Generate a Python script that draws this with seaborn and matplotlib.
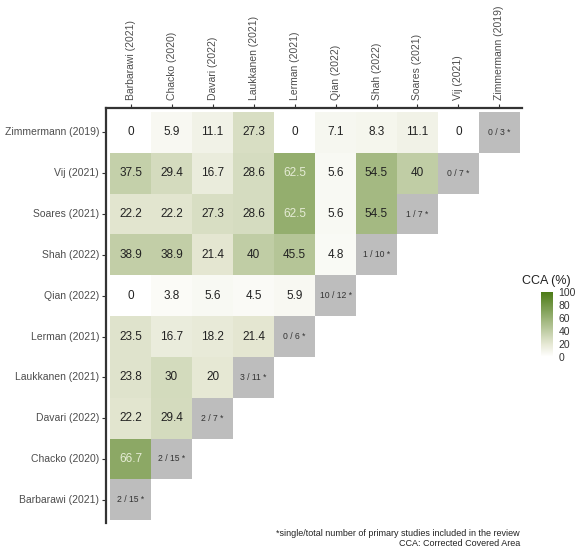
import numpy as np
import pandas as pd
import matplotlib
matplotlib.use("Agg")
import matplotlib.pyplot as plt
from matplotlib.colors import LinearSegmentedColormap, ListedColormap
import seaborn as sns

sns.set_style("white")
plt.rcParams['font.family'] = ['Liberation Sans', 'DejaVu Sans']

cols = ["Barbarawi (2021)", "Chacko (2020)", "Davari (2022)", "Laukkanen (2021)",
        "Lerman (2021)", "Qian (2022)", "Shah (2022)", "Soares (2021)",
        "Vij (2021)", "Zimmermann (2019)"]
rows = ["Zimmermann (2019)", "Vij (2021)", "Soares (2021)", "Shah (2022)",
        "Qian (2022)", "Lerman (2021)", "Laukkanen (2021)", "Davari (2022)",
        "Chacko (2020)", "Barbarawi (2021)"]

zimmermann = [0, 5.9, 11.1, 27.3, 0, 7.1, 8.3, 11.1, 0]
vij = [37.5, 29.4, 16.7, 28.6, 62.5, 5.6, 54.5, 40]
soares = [22.2, 22.2, 27.3, 28.6, 62.5, 5.6, 54.5]
shah = [38.9, 38.9, 21.4, 40, 45.5, 4.8]
qian = [0, 3.8, 5.6, 4.5, 5.9]
lerman = [23.5, 16.7, 18.2, 21.4]
laukkanen = [23.8, 30, 20]
davari = [22.2, 29.4]
chacko = [66.7]
barbarawi = []

diag_labels = ["0 / 3 *", "0 / 7 *", "1 / 7 *", "1 / 10 *", "10 / 12 *",
               "0 / 6 *", "3 / 11 *", "2 / 7 *", "2 / 15 *", "2 / 15 *"]

row_vals = [zimmermann, vij, soares, shah, qian, lerman, laukkanen, davari, chacko, barbarawi]
n = len(cols)
mat = np.full((n, n), np.nan)
for i, vals in enumerate(row_vals):
    for j, v in enumerate(vals):
        mat[i, j] = v
df = pd.DataFrame(mat, index=rows, columns=cols)
annot = np.array([["" if np.isnan(v) else f"{v:g}" for v in r] for r in mat], dtype=object)

diag = np.full((n, n), np.nan)
dannot = np.full((n, n), "", dtype=object)
for i in range(n):
    diag[i, n - 1 - i] = 1
    dannot[i, n - 1 - i] = diag_labels[i]
ddf = pd.DataFrame(diag, index=rows, columns=cols)

cmap = LinearSegmentedColormap.from_list(
    "cca", [(0, "#ffffff"), (0.2, "#e6e8d4"), (1.0, "#4c7b16")])

fig = plt.figure(figsize=(5.88, 5.48), dpi=100)
ax = fig.add_axes([106/588, 1-523/548, 416/588, 415/548])
cax = fig.add_axes([541/588, 1-357/548, 12/588, 65/548])

sns.heatmap(df, ax=ax, cmap=cmap, vmin=0, vmax=100, annot=annot, fmt="",
            annot_kws={"fontsize": 8.5}, cbar=True, cbar_ax=cax,
            mask=np.isnan(mat), linewidths=0)
sns.heatmap(ddf, ax=ax, cmap=ListedColormap(["#bdbdbd"]), vmin=0, vmax=2,
            annot=dannot, fmt="", annot_kws={"fontsize": 6.2, "color": "#333333"},
            cbar=False, mask=np.isnan(diag), linewidths=0)

for t in ax.texts:
    s = t.get_text()
    if "/" in s:
        continue
    try:
        v = float(s)
    except ValueError:
        continue
    t.set_color("#e6ecd6" if v > 60 else "#222222")

ax.set_xlim(-0.1, 10.05)
ax.set_ylim(10.07, -0.1)
ax.xaxis.tick_top()
ax.set_xlabel("")
ax.set_ylabel("")
ax.tick_params(axis="x", rotation=90, labelsize=7.5, labelcolor="#4d4d4d",
               length=3, color="#333333", width=0.8, pad=3, top=True, bottom=False)
ax.tick_params(axis="y", rotation=0, labelsize=7.5, labelcolor="#4d4d4d",
               length=3, color="#333333", width=0.8, pad=2, left=True)
for side in ["left", "top"]:
    ax.spines[side].set_visible(True)
    ax.spines[side].set_color("#333333")
    ax.spines[side].set_linewidth(1.6)
for side in ["right", "bottom"]:
    ax.spines[side].set_visible(False)

cax.tick_params(length=0, labelsize=7.5, labelcolor="#333333", pad=4)
cax.set_yticks([0, 20, 40, 60, 80, 100])
for s in cax.spines.values():
    s.set_visible(False)
fig.text(522/588, 1-281/548, "CCA (%)", fontsize=9, ha="left", va="center", color="#222222")

fig.text(520/588, 1-534/548, "*single/total number of primary studies included in the review",
         fontsize=6.5, ha="right", va="center", color="#222222")
fig.text(520/588, 1-544/548, "CCA: Corrected Covered Area",
         fontsize=6.5, ha="right", va="center", color="#222222")

fig.savefig("out.png", dpi=100)
